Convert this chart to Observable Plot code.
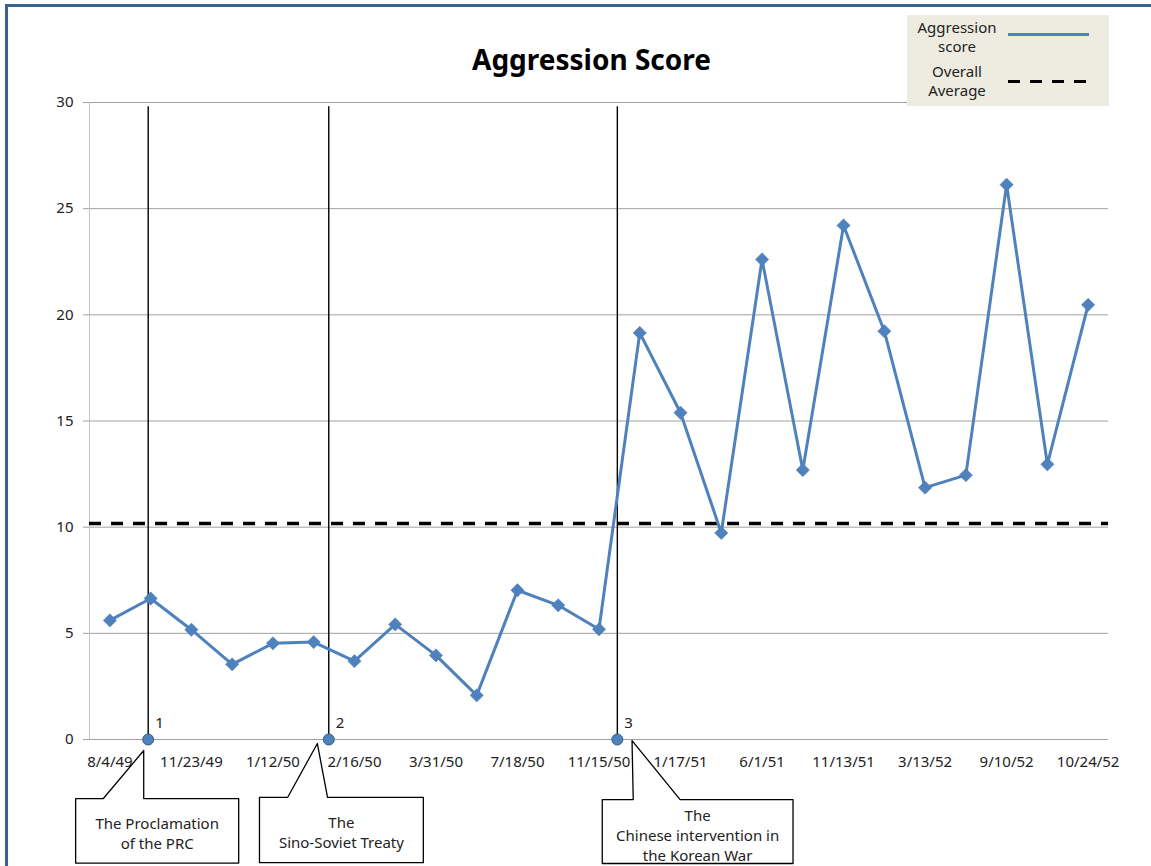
<!DOCTYPE html>
<html>
<head>
<meta charset="utf-8">
<script src="https://cdn.jsdelivr.net/npm/d3@7"></script>
<script src="https://cdn.jsdelivr.net/npm/@observablehq/plot@0.6"></script>
<style>
  html, body { margin: 0; padding: 0; background: #fff; overflow: hidden; }
  #wrap { position: relative; width: 1151px; height: 866px; background: #fff; font-family: "Noto Sans", sans-serif; }
  #frame { position: absolute; left: 5px; top: 4px; width: 1146px; height: 862px; border-top: 3px solid #3C6190; border-left: 3px solid #3C6190; box-sizing: border-box; pointer-events: none; z-index: 3; }
  #title { height: 85px; box-sizing: border-box; padding-top: 43px; text-align: center; font-weight: bold; font-size: 28px; line-height: 32px; color: #000; padding-left: 32px; }
  #legend { position: absolute; left: 907px; top: 15px; width: 202px; height: 91px; background: #EEECE1; z-index: 2; font-size: 15px; color: #222; }
  #legend .t { position: absolute; left: 0; width: 100px; text-align: center; line-height: 19px; }
  #legend .blue { position: absolute; left: 101px; top: 18px; width: 81px; height: 3px; background: #4F81BD; }
  #legend .dash { position: absolute; left: 101px; top: 65px; width: 79px; height: 3px; background: repeating-linear-gradient(to right, #000 0 12px, transparent 12px 22px); }
</style>
</head>
<body>
<div id="wrap">
  <div id="frame"></div>
  <div id="title">Aggression Score</div>
  <div id="legend">
    <div class="t" style="top:3px">Aggression<br>score</div>
    <div class="blue"></div>
    <div class="t" style="top:47px">Overall<br>Average</div>
    <div class="dash"></div>
  </div>
  <div id="chart"></div>
</div>
<script>
// ---- data ----
const tickLabels = ["8/4/49","11/23/49","1/12/50","2/16/50","3/31/50","7/18/50","11/15/50","1/17/51","6/1/51","11/13/51","3/13/52","9/10/52","10/24/52"];
const scores = [5.61,6.64,5.17,3.54,4.53,4.59,3.69,5.42,3.96,2.08,7.03,6.32,5.19,19.15,15.39,9.73,22.61,12.69,24.21,19.23,11.86,12.45,26.13,12.96,20.47];
const overallAverage = 10.17;
const yTicks = [0,5,10,15,20,25,30];

// events (position in category units)
const eventNumbers = ["1","2","3"];
const eventPos = [1.94, 6.37, 13.45];
const eventNames = ["The Proclamation\nof the PRC", "The\nSino-Soviet Treaty", "The\nChinese intervention in\nthe Korean War"];
// callout boxes (category units / score units)
const boxX1 = [0.16, 4.67, 13.08];
const boxX2 = [4.16, 8.69, 17.76];
const boxTop = [-2.78, -2.73, -2.83];
const boxBottom = [-5.82, -5.80, -5.84];
const wedgeL = [0.84, 5.36, 13.84];
const wedgeR = [1.83, 6.34, 14.99];
const tipX = [1.83, 6.09, 13.81];
const tipY = [-0.52, -0.19, -0.05];
const textY = [-4.40, -4.32, -4.46];

// ---- build tables ----
const series = scores.map((v, i) => ({i: i + 1, v}));
const tickIdx = tickLabels.map((d, k) => 2 * k + 1);
const events = eventPos.map((x, k) => ({x, n: eventNumbers[k], name: eventNames[k], tx: (boxX1[k] + boxX2[k]) / 2, ty: textY[k]}));
const outline = [];
eventPos.forEach((_, k) => {
  const pts = [[boxX1[k], boxTop[k]], [wedgeL[k], boxTop[k]], [tipX[k], tipY[k]], [wedgeR[k], boxTop[k]], [boxX2[k], boxTop[k]], [boxX2[k], boxBottom[k]], [boxX1[k], boxBottom[k]], [boxX1[k], boxTop[k]]];
  pts.forEach(([x, y]) => outline.push({k, x, y}));
});

const blue = "#4F81BD";
const chart = Plot.plot({
  width: 1151,
  height: 781,
  marginTop: 17,
  marginBottom: 127,
  marginLeft: 89,
  marginRight: 43,
  style: {fontFamily: "'Noto Sans', sans-serif", fontSize: "15px", color: "#222", background: "transparent", overflow: "visible"},
  x: {type: "linear", domain: [0.5, 25.5]},
  y: {domain: [0, 30]},
  marks: [
    Plot.ruleY(yTicks, {stroke: "#A0A0A0", strokeWidth: 1}),
    Plot.ruleX([0.5], {y1: 0, y2: 30, stroke: "#C4C4C4", strokeWidth: 1}),
    Plot.axisY({ticks: yTicks, tickSize: 6, tickPadding: 10, stroke: "#A0A0A0", fill: "#222", fontSize: 15, label: null}),
    Plot.axisX({ticks: tickIdx, tickSize: 0, tickPadding: 17, tickFormat: d => tickLabels[(d - 1) / 2], fill: "#222", fontSize: 15, label: null}),
    Plot.ruleX(events, {x: "x", y1: 0, y2: 29.8, stroke: "#000", strokeWidth: 1.4}),
    Plot.ruleY([overallAverage], {stroke: "#000", strokeWidth: 3.5, strokeDasharray: "12,10"}),
    Plot.line(series, {x: "i", y: "v", stroke: blue, strokeWidth: 3}),
    Plot.dot(series, {x: "i", y: "v", symbol: "diamond2", r: 6, fill: blue, stroke: blue, strokeWidth: 0.5}),
    Plot.dot(events, {x: "x", y: 0, r: 5.5, fill: blue, stroke: "#385D8A", strokeWidth: 1}),
    Plot.text(events, {x: "x", y: 0, text: "n", dx: 7, dy: -16, textAnchor: "start", fontSize: 15, fill: "#222"}),
    Plot.line(outline, {x: "x", y: "y", z: "k", stroke: "#000", strokeWidth: 1.3}),
    Plot.text(events, {x: "tx", y: "ty", text: "name", fontSize: 15, lineHeight: 1.33, fill: "#222"})
  ]
});
document.getElementById("chart").appendChild(chart);
</script>
</body>
</html>
